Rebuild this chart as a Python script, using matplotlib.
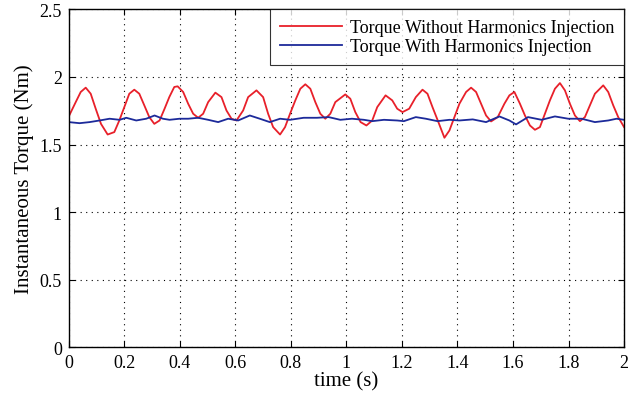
import numpy as np
import matplotlib
matplotlib.use("Agg")
import matplotlib.pyplot as plt

# torque without harmonics injection (time in s, torque in Nm)
t_red = [0.000, 0.025, 0.043, 0.061, 0.079, 0.097, 0.116, 0.140, 0.164, 0.182,
         0.200, 0.218, 0.236, 0.254, 0.272, 0.290, 0.308, 0.327, 0.345, 0.362,
         0.380, 0.392, 0.412, 0.430, 0.448, 0.466, 0.484, 0.502, 0.528, 0.550,
         0.568, 0.586, 0.604, 0.628, 0.646, 0.676, 0.700, 0.718, 0.736, 0.761,
         0.779, 0.797, 0.816, 0.834, 0.852, 0.870, 0.888, 0.906, 0.924, 0.942,
         0.960, 0.996, 1.014, 1.032, 1.051, 1.072, 1.093, 1.111, 1.141, 1.165,
         1.183, 1.202, 1.226, 1.250, 1.274, 1.292, 1.310, 1.329, 1.353, 1.371,
         1.389, 1.407, 1.431, 1.449, 1.467, 1.485, 1.503, 1.521, 1.545, 1.569,
         1.587, 1.605, 1.625, 1.643, 1.661, 1.679, 1.697, 1.715, 1.733, 1.751,
         1.769, 1.787, 1.805, 1.823, 1.841, 1.859, 1.877, 1.895, 1.925, 1.943,
         1.961, 1.979, 2.000]
torque_red = [1.708, 1.814, 1.889, 1.921, 1.876, 1.765, 1.653, 1.574, 1.592, 1.678,
              1.777, 1.876, 1.906, 1.876, 1.790, 1.703, 1.653, 1.678, 1.765, 1.851,
              1.926, 1.931, 1.889, 1.802, 1.728, 1.698, 1.728, 1.814, 1.884, 1.851,
              1.752, 1.691, 1.678, 1.752, 1.851, 1.901, 1.851, 1.728, 1.629, 1.574,
              1.629, 1.728, 1.827, 1.913, 1.946, 1.913, 1.814, 1.728, 1.691, 1.728,
              1.814, 1.871, 1.839, 1.740, 1.666, 1.641, 1.678, 1.777, 1.864, 1.827,
              1.765, 1.740, 1.765, 1.851, 1.906, 1.876, 1.777, 1.678, 1.550, 1.604,
              1.703, 1.802, 1.889, 1.921, 1.889, 1.802, 1.715, 1.671, 1.703, 1.802,
              1.864, 1.889, 1.802, 1.715, 1.641, 1.609, 1.629, 1.728, 1.827, 1.913,
              1.955, 1.901, 1.802, 1.715, 1.673, 1.703, 1.790, 1.876, 1.938, 1.889,
              1.790, 1.703, 1.629]

# torque with harmonics injection
t_blue = [0.000, 0.039, 0.075, 0.111, 0.147, 0.183, 0.207, 0.243, 0.279, 0.309,
          0.339, 0.363, 0.399, 0.430, 0.466, 0.502, 0.538, 0.574, 0.610, 0.652,
          0.688, 0.724, 0.761, 0.797, 0.846, 0.894, 0.936, 0.978, 1.020, 1.063,
          1.093, 1.135, 1.183, 1.207, 1.250, 1.286, 1.328, 1.371, 1.407, 1.455,
          1.503, 1.551, 1.587, 1.611, 1.654, 1.703, 1.751, 1.799, 1.847, 1.895,
          1.943, 1.973, 2.000]
torque_blue = [1.666, 1.658, 1.666, 1.678, 1.691, 1.683, 1.698, 1.678, 1.691, 1.715,
               1.691, 1.683, 1.691, 1.691, 1.698, 1.683, 1.666, 1.691, 1.678, 1.715,
               1.691, 1.666, 1.691, 1.683, 1.698, 1.698, 1.703, 1.683, 1.691, 1.683,
               1.673, 1.683, 1.678, 1.673, 1.703, 1.691, 1.673, 1.683, 1.678, 1.686,
               1.666, 1.708, 1.678, 1.649, 1.703, 1.683, 1.708, 1.691, 1.691, 1.666,
               1.678, 1.691, 1.683]

xticks = [0, 0.2, 0.4, 0.6, 0.8, 1, 1.2, 1.4, 1.6, 1.8, 2]
xticklabels = ["0", "0.2", "0.4", "0.6", "0.8", "1", "1.2", "1.4", "1.6", "1.8", "2"]
yticks = [0, 0.5, 1, 1.5, 2, 2.5]
yticklabels = ["0", "0.5", "1", "1.5", "2", "2.5"]

plt.rcParams['font.family'] = ['Liberation Serif', 'DejaVu Serif']

fig = plt.figure(figsize=(6.31, 4.02), dpi=100)
ax = fig.add_axes([0.109, 0.134, 0.880, 0.840])

ax.plot(t_red, torque_red, color='#e8202a', linewidth=1.3,
        label='Torque Without Harmonics Injection')
ax.plot(t_blue, torque_blue, color='#1c2a9a', linewidth=1.3,
        label='Torque With Harmonics Injection')

ax.set_xlim(0, 2)
ax.set_ylim(0, 2.5)
ax.set_xticks(xticks)
ax.set_xticklabels(xticklabels, fontsize=13)
ax.set_yticks(yticks)
ax.set_yticklabels(yticklabels, fontsize=13)
ax.tick_params(direction='in', length=4, width=0.8, top=True, right=True, pad=5)
ax.grid(True, linestyle=(0, (1, 4)), color='black', linewidth=0.8)
for s in ax.spines.values():
    s.set_linewidth(1.0)

ax.set_xlabel('time (s)', fontsize=15, labelpad=0)
ax.set_ylabel('Instantaneous Torque (Nm)', fontsize=15, labelpad=4)

leg = ax.legend(loc='upper right', fontsize=13, frameon=True, fancybox=False,
                borderaxespad=0, handlelength=3.4, handletextpad=0.45,
                borderpad=0.55, labelspacing=0.1)
leg.get_frame().set_edgecolor('black')
leg.get_frame().set_linewidth(0.8)

fig.savefig('out.png', dpi=100)
